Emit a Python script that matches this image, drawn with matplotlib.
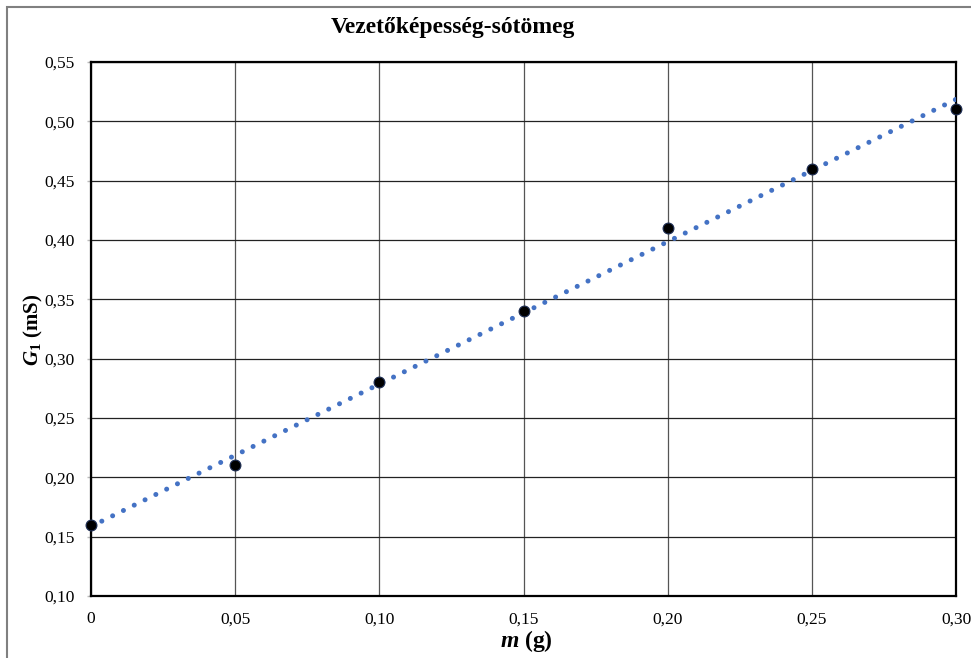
import numpy as np
import matplotlib
matplotlib.use("Agg")
import matplotlib.pyplot as plt
from matplotlib.ticker import FuncFormatter, MultipleLocator
from matplotlib.patches import Rectangle

# Data
mass_g = [0.00, 0.05, 0.10, 0.15, 0.20, 0.25, 0.30]
conductance_mS = [0.16, 0.21, 0.28, 0.34, 0.41, 0.46, 0.51]
title = "Vezetőképesség-sótömeg"

plt.rcParams['font.family'] = ['Liberation Serif', 'DejaVu Serif']
plt.rcParams['mathtext.fontset'] = 'custom'
plt.rcParams['mathtext.rm'] = 'Liberation Serif'
plt.rcParams['mathtext.it'] = 'Liberation Serif:italic'
plt.rcParams['mathtext.bf'] = 'Liberation Serif:bold'
plt.rcParams['mathtext.bfit'] = 'Liberation Serif:italic:bold'

W, H = 971, 658
fig = plt.figure(figsize=(W / 100, H / 100), dpi=100)
ax = fig.add_axes([91 / W, 1 - 596 / H, (956 - 91) / W, (596 - 62) / H])

# Linear trendline
x = np.array(mass_g)
y = np.array(conductance_mS)
k, b = np.polyfit(x, y, 1)
xt = np.linspace(0, 0.30, 200)
ax.plot(xt, k * xt + b, color='#4472C4', lw=3.6, linestyle=(0, (0.01, 2.4)),
        dash_capstyle='round', zorder=3)

ax.plot(x, y, 'o', color='black', markersize=7.8, markeredgecolor='#1f2f55',
        markeredgewidth=0.8, zorder=4, clip_on=False)

ax.set_xlim(0, 0.30)
ax.set_ylim(0.10, 0.55)
ax.xaxis.set_major_locator(MultipleLocator(0.05))
ax.yaxis.set_major_locator(MultipleLocator(0.05))

def fmt_x(v, pos):
    if abs(v) < 1e-9:
        return "0"
    return f"{v:.2f}".replace('.', ',')

def fmt_y(v, pos):
    return f"{v:.2f}".replace('.', ',')

ax.xaxis.set_major_formatter(FuncFormatter(fmt_x))
ax.yaxis.set_major_formatter(FuncFormatter(fmt_y))

ax.tick_params(axis='x', length=0, pad=11, labelsize=12.5, colors='black')
ax.tick_params(axis='y', length=3, width=1, color='#bbbbbb', pad=9,
               labelsize=12.5, labelcolor='black')

ax.grid(True, axis='y', color='#222222', lw=0.9)
ax.grid(True, axis='x', color='#555555', lw=0.9)
ax.set_axisbelow(True)
for s in ax.spines.values():
    s.set_linewidth(1.6)
    s.set_color('black')

fig.text(453 / W, 1 - 28 / H, title, ha='center', va='center',
         fontsize=17, fontweight='bold')
fig.text(526 / W, 1 - 641 / H, r"$\mathbfit{m}$ (g)", ha='center', va='center',
         fontsize=17, fontweight='bold')
fig.text(33 / W, 1 - 330 / H, r"$\mathbfit{G}_{\mathbf{1}}$ (mS)", ha='center',
         va='center', rotation=90, fontsize=15, fontweight='bold')

# Outer chart border (cropped on right and bottom)
fig.patches.append(Rectangle((7 / W, -0.1), 1.2, 1 - 7 / H + 0.1,
                             transform=fig.transFigure, fill=False,
                             edgecolor='#808080', lw=1.5))

fig.savefig("out.png", dpi=100)
